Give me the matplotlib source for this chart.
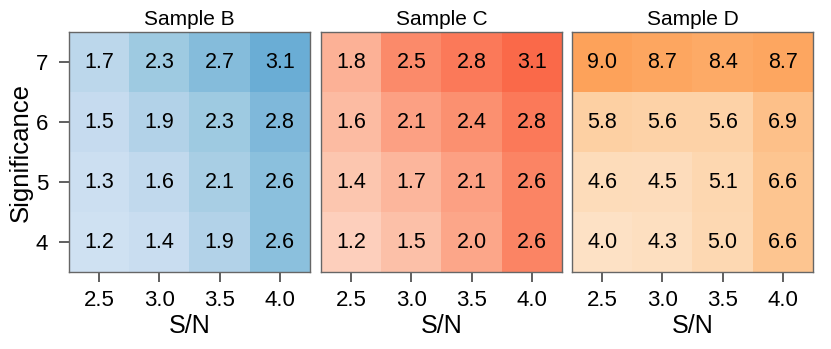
import numpy as np
import matplotlib
matplotlib.use("Agg")
import matplotlib.pyplot as plt

plt.rcParams['font.family'] = ['Liberation Sans', 'DejaVu Sans']

sn_labels = ["2.5", "3.0", "3.5", "4.0"]
sig_labels = ["4", "5", "6", "7"]
titles = ["Sample B", "Sample C", "Sample D"]

# rows: significance 4,5,6,7 ; cols: S/N 2.5,3.0,3.5,4.0
sample_b = [[1.2, 1.4, 1.9, 2.6],
            [1.3, 1.6, 2.1, 2.6],
            [1.5, 1.9, 2.3, 2.8],
            [1.7, 2.3, 2.7, 3.1]]
sample_c = [[1.2, 1.5, 2.0, 2.6],
            [1.4, 1.7, 2.1, 2.6],
            [1.6, 2.1, 2.4, 2.8],
            [1.8, 2.5, 2.8, 3.1]]
sample_d = [[4.0, 4.3, 5.0, 6.6],
            [4.6, 4.5, 5.1, 6.6],
            [5.8, 5.6, 5.6, 6.9],
            [9.0, 8.7, 8.4, 8.7]]

datasets = [sample_b, sample_c, sample_d]
cmaps = ["Blues", "Reds", "Oranges"]
ranges = [(0.2, 0.5), (0.18, 0.5), (0.15, 0.42)]

W, H = 831, 349
fig = plt.figure(figsize=(W / 100, H / 100), dpi=100)
lefts = [69, 321, 572]
aw, ah = 241, 240
top = 32

for i, (data, cm, (lo, hi), title) in enumerate(zip(datasets, cmaps, ranges, titles)):
    ax = fig.add_axes([lefts[i] / W, 1 - (top + ah) / H, aw / W, ah / H])
    arr = np.array(data, dtype=float)
    cmap = plt.get_cmap(cm)
    vmin, vmax = arr.min(), arr.max()
    frac = lo + (hi - lo) * (arr - vmin) / (vmax - vmin)
    colors = cmap(frac)
    ax.imshow(colors, origin="lower", aspect="auto",
              extent=(-0.5, 3.5, -0.5, 3.5), interpolation="nearest")
    for r in range(arr.shape[0]):
        for c in range(arr.shape[1]):
            ax.text(c, r, f"{arr[r, c]:.1f}", ha="center", va="center",
                    fontsize=15.5, color="black")
    ax.set_xlim(-0.5, 3.5)
    ax.set_ylim(-0.5, 3.5)
    ax.set_xticks(range(4))
    ax.set_xticklabels(sn_labels, fontsize=16)
    ax.tick_params(axis="x", length=7, width=1.2, color="#444444", pad=6)
    if i == 0:
        ax.set_yticks(range(4))
        ax.set_yticklabels(sig_labels, fontsize=16)
        ax.tick_params(axis="y", length=7, width=1.2, color="#444444", pad=8)
        ax.set_ylabel("Significance", fontsize=18.5, labelpad=2)
    else:
        ax.set_yticks([])
    ax.set_xlabel("S/N", fontsize=18, labelpad=2)
    ax.set_title(title, fontsize=15, pad=5)
    for s in ax.spines.values():
        s.set_color("#666666")
        s.set_linewidth(1.0)

fig.savefig("out.png", dpi=100)
